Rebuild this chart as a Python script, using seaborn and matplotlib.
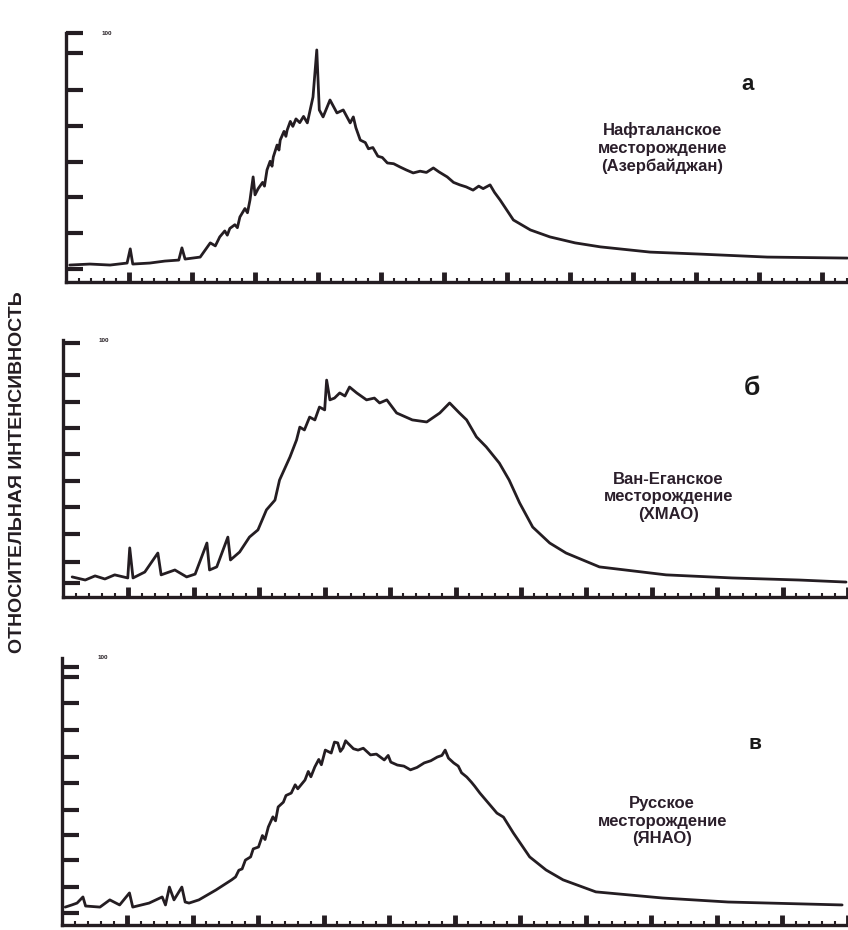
import numpy as np
import pandas as pd
import matplotlib
matplotlib.use("Agg")
import matplotlib.pyplot as plt
import seaborn as sns

# --- data (x in tick units, y in % of axis height) ---
x_a = [0.06, 0.38, 0.70, 0.97, 1.02, 1.06, 1.33, 1.57, 1.79, 1.84, 1.89, 2.13, 2.29, 2.37, 2.44,
       2.52, 2.56, 2.60, 2.68, 2.72, 2.76, 2.84, 2.88, 2.92, 2.97, 3.00, 3.05, 3.12, 3.15, 3.19,
       3.24, 3.27, 3.29, 3.35, 3.38, 3.40, 3.46, 3.49, 3.51, 3.56, 3.60, 3.65, 3.71, 3.77, 3.83,
       3.92, 3.98, 4.02, 4.08, 4.19, 4.30, 4.40, 4.51, 4.56, 4.60, 4.67, 4.75, 4.80, 4.87, 4.95,
       5.02, 5.10, 5.20, 5.30, 5.40, 5.51, 5.62, 5.72, 5.83, 5.92, 6.05, 6.15, 6.25, 6.35, 6.46,
       6.55, 6.62, 6.73, 6.80, 6.89, 7.10, 7.37, 7.68, 8.08, 8.48, 9.27, 10.06, 11.13, 12.40]
y_a = [6.8, 7.2, 6.8, 7.6, 13.3, 7.2, 7.6, 8.4, 8.8, 13.7, 9.2, 10.0, 15.7, 14.5, 18.1,
       20.5, 18.8, 21.5, 23.0, 21.8, 26.1, 29.5, 27.8, 32.9, 42.2, 35.0, 37.5, 40.0, 38.5, 45.0,
       48.5, 46.5, 50.2, 55.0, 53.0, 57.0, 60.5, 58.5, 61.0, 64.5, 62.5, 65.5, 64.0, 66.5, 63.9,
       74.3, 93.2, 69.1, 66.3, 73.1, 67.9, 69.1, 63.9, 66.3, 62.0, 57.0, 56.0, 53.5, 54.0, 50.5,
       50.0, 47.8, 47.5, 46.2, 45.0, 43.8, 44.5, 44.0, 45.8, 44.2, 42.2, 40.0, 39.0, 38.2, 36.9,
       38.5, 37.5, 39.0, 36.0, 32.9, 24.9, 20.9, 18.1, 15.7, 14.1, 12.0, 11.2, 10.0, 9.6]

x_b = [0.14, 0.34, 0.49, 0.64, 0.79, 0.99, 1.02, 1.07, 1.25, 1.45, 1.50, 1.71, 1.89, 2.02, 2.20,
       2.24, 2.35, 2.52, 2.56, 2.70, 2.85, 2.98, 3.11, 3.24, 3.31, 3.47, 3.57, 3.62, 3.69, 3.77,
       3.85, 3.92, 4.00, 4.03, 4.08, 4.15, 4.23, 4.31, 4.38, 4.49, 4.64, 4.76, 4.84, 4.95, 5.10,
       5.34, 5.56, 5.76, 5.91, 6.06, 6.17, 6.32, 6.47, 6.67, 6.82, 6.98, 7.18, 7.44, 7.69, 8.20,
       9.22, 10.23, 11.25, 11.97]
y_b = [7.8, 6.6, 8.2, 7.0, 8.6, 7.4, 19.1, 7.4, 9.7, 17.1, 8.6, 10.5, 7.8, 8.9, 21.0,
       10.5, 11.7, 23.3, 14.4, 17.5, 23.3, 26.1, 33.9, 37.7, 45.5, 54.5, 61.1, 66.1, 65.0, 70.0,
       68.9, 73.9, 72.8, 84.4, 76.7, 77.4, 79.4, 78.2, 81.7, 79.4, 76.7, 77.4, 75.5, 76.7, 71.6,
       68.9, 68.1, 71.6, 75.5, 71.6, 68.9, 62.3, 58.4, 52.1, 45.5, 36.6, 27.2, 21.0, 17.1, 11.7,
       8.6, 7.4, 6.6, 5.8]

x_c = [0.05, 0.15, 0.23, 0.32, 0.36, 0.58, 0.73, 0.88, 1.03, 1.08, 1.33, 1.53, 1.58, 1.64, 1.71,
       1.83, 1.88, 1.94, 2.09, 2.35, 2.59, 2.65, 2.70, 2.75, 2.80, 2.88, 2.92, 3.00, 3.06, 3.10,
       3.15, 3.22, 3.26, 3.30, 3.38, 3.42, 3.50, 3.56, 3.60, 3.71, 3.76, 3.80, 3.86, 3.92, 3.96,
       4.02, 4.11, 4.16, 4.21, 4.25, 4.29, 4.33, 4.36, 4.45, 4.52, 4.60, 4.71, 4.80, 4.92, 4.98,
       5.02, 5.12, 5.22, 5.32, 5.42, 5.53, 5.63, 5.73, 5.80, 5.85, 5.90, 5.98, 6.05, 6.10, 6.18,
       6.25, 6.30, 6.38, 6.64, 6.74, 6.89, 7.14, 7.39, 7.65, 8.15, 9.17, 10.17, 11.91]
y_c = [6.7, 7.5, 8.2, 10.5, 7.1, 6.7, 9.4, 7.5, 12.0, 6.7, 8.2, 10.5, 7.5, 14.2, 9.4,
       14.2, 8.6, 8.2, 9.4, 13.1, 16.9, 18.0, 20.5, 21.0, 24.3, 25.5, 28.5, 29.2, 33.5, 32.0,
       36.7, 40.5, 39.0, 44.2, 46.0, 48.5, 49.4, 52.5, 51.0, 54.3, 57.5, 55.5, 59.2, 62.0, 60.0,
       65.5, 64.4, 68.5, 68.2, 65.0, 66.3, 69.0, 68.2, 66.0, 65.5, 66.2, 63.7, 64.0, 61.8, 63.5,
       61.0, 59.9, 59.5, 58.1, 59.0, 60.7, 61.5, 62.9, 63.5, 65.5, 62.5, 60.7, 59.5, 57.0, 55.4,
       53.5, 52.0, 49.4, 41.9, 40.4, 34.5, 25.5, 20.6, 16.9, 12.4, 10.1, 8.6, 7.5]

yticks_a = [5.2, 19.7, 34.1, 48.2, 62.7, 77.1, 92.0, 100.0]
yticks_b = [5.4, 13.6, 24.5, 35.0, 45.1, 55.6, 65.8, 75.9, 86.4, 98.8]
yticks_c = [4.3, 14.2, 24.3, 33.7, 43.1, 53.2, 62.9, 73.0, 83.1, 92.9, 96.6]
xticks = [1, 2, 3, 4, 5, 6, 7, 8, 9, 10, 11, 12]

letters = ["а", "б", "в"]
names = ["Нафталанское\nместорождение\n(Азербайджан)",
         "Ван-Еганское\nместорождение\n(ХМАО)",
         "Русское\nместорождение\n(ЯНАО)"]
ylabel = "ОТНОСИТЕЛЬНАЯ ИНТЕНСИВНОСТЬ"

sns.set_style("white")
plt.rcParams['font.family'] = ['Liberation Sans Narrow', 'Liberation Sans', 'DejaVu Sans']

ink = "#241d22"
fig = plt.figure(figsize=(8.48, 9.30), dpi=100)

panels = [
    # rect, x, y, yticks, xmax, letter pos, letter size, names pos
    ([0.0778, 0.6968, 0.9222, 0.2677], x_a, y_a, yticks_a, 12.41, (0.882, 0.909), 16, (0.781, 0.841)),
    ([0.0743, 0.3581, 0.9257, 0.2763], x_b, y_b, yticks_b, 11.98, (0.887, 0.583), 19, (0.788, 0.466)),
    ([0.0731, 0.0054, 0.9269, 0.2871], x_c, y_c, yticks_c, 11.91, (0.890, 0.201), 15, (0.781, 0.117)),
]

for i, (rect, xs, ys, yt, xmax, lpos, lsize, npos) in enumerate(panels):
    ax = fig.add_axes(rect)
    df = pd.DataFrame({"x": xs, "y": ys})
    sns.lineplot(data=df, x="x", y="y", ax=ax, color=ink, linewidth=2.0,
                 estimator=None, sort=False)
    ax.set_xlim(0, xmax)
    ax.set_ylim(0, 100)
    ax.set_xlabel("")
    ax.set_ylabel("")
    for s in ["top", "right"]:
        ax.spines[s].set_visible(False)
    for s in ["left", "bottom"]:
        ax.spines[s].set_linewidth(2.4)
        ax.spines[s].set_color(ink)
    ax.set_xticks(xticks)
    ax.set_xticks(np.arange(0.2, xmax, 0.2), minor=True)
    ax.set_yticks(yt)
    ax.tick_params(axis="x", which="major", bottom=True, direction="in", length=7, width=3.5,
                   color=ink, labelbottom=False)
    ax.tick_params(axis="x", which="minor", bottom=True, direction="in", length=3, width=1.5,
                   color=ink)
    ax.tick_params(axis="y", which="major", left=True, direction="in", length=12, width=3,
                   color=ink, labelleft=False, pad=0)
    ax.patch.set_alpha(0)
    ax.text(0.045, 1.0, "100", transform=ax.transAxes, fontsize=4.5,
            fontweight="bold", color=ink, va="center", ha="left")

    fig.text(lpos[0], lpos[1], letters[i], fontsize=lsize, fontweight="bold",
             color="#1a1a1a", ha="center", va="center")
    fig.text(npos[0], npos[1], names[i], fontsize=12, fontweight="bold",
             color="#2b1f2b", ha="center", va="center", linespacing=1.2)

fig.text(0.0212, 0.4925, ylabel, rotation=90, fontsize=14, fontweight="bold",
         color=ink, ha="center", va="center")

fig.savefig("out.png", dpi=100)
